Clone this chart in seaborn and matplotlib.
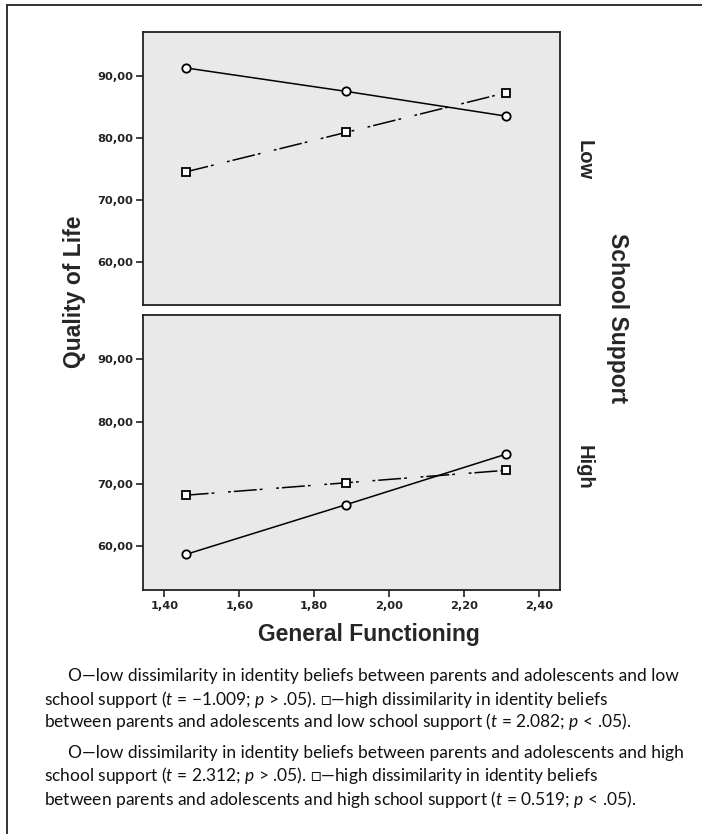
import matplotlib
matplotlib.use("Agg")
import matplotlib.pyplot as plt
import pandas as pd
import seaborn as sns

# values
gen_functioning = [1.457, 1.886, 2.313]
support_levels = ["Low", "High"]
low_dissim_low_support = [91.3, 87.5, 83.5]
high_dissim_low_support = [74.5, 80.9, 87.3]
low_dissim_high_support = [58.7, 66.7, 74.8]
high_dissim_high_support = [68.2, 70.2, 72.2]
y_ticks = [60, 70, 80, 90]
x_ticks = [1.4, 1.6, 1.8, 2.0, 2.2, 2.4]

caption_1 = [
    "O\u2014low dissimilarity in identity beliefs between parents and adolescents and low",
    "school support ($\\mathit{t}$ = \u22121.009; $\\mathit{p}$ > .05). \u25a1\u2014high dissimilarity in identity beliefs",
    "between parents and adolescents and low school support ($\\mathit{t}$ = 2.082; $\\mathit{p}$ < .05).",
]
caption_2 = [
    "O\u2014low dissimilarity in identity beliefs between parents and adolescents and high",
    "school support ($\\mathit{t}$ = 2.312; $\\mathit{p}$ > .05). \u25a1\u2014high dissimilarity in identity beliefs",
    "between parents and adolescents and high school support ($\\mathit{t}$ = 0.519; $\\mathit{p}$ < .05).",
]

rows = []
for support, low_vals, high_vals in [
    ("Low", low_dissim_low_support, high_dissim_low_support),
    ("High", low_dissim_high_support, high_dissim_high_support),
]:
    for x, y in zip(gen_functioning, low_vals):
        rows.append({"support": support, "dissim": "low", "gf": x, "qol": y})
    for x, y in zip(gen_functioning, high_vals):
        rows.append({"support": support, "dissim": "high", "gf": x, "qol": y})
df = pd.DataFrame(rows)

sns.set_theme(style="white")
plt.rcParams["font.family"] = ["DejaVu Sans"]
plt.rcParams["mathtext.fontset"] = "custom"
plt.rcParams["mathtext.rm"] = "Lato"
plt.rcParams["mathtext.it"] = "Lato:italic"

W, H = 702, 834
fig = plt.figure(figsize=(W / 100, H / 100), dpi=100)


def fx(px):
    return px / W


def fy(py):
    return 1 - py / H


panels = {"Low": (32, 305), "High": (315, 590)}
left, right = 143, 560

for support in support_levels:
    top, bottom = panels[support]
    ax = fig.add_axes([fx(left), fy(bottom), fx(right - left), (bottom - top) / H])
    ax.set_facecolor("#e9e9e9")
    sub = df[df["support"] == support]
    sns.lineplot(
        data=sub, x="gf", y="qol", style="dissim", ax=ax,
        style_order=["low", "high"],
        markers={"low": "o", "high": "s"},
        dashes={"low": "", "high": (15, 2, 1.8, 9, 1.8, 2)},
        color="black", lw=1.1, markersize=6,
        markerfacecolor="white", markeredgecolor="black", markeredgewidth=1.3,
        legend=False,
    )
    ax.set_xlim(1.343, 2.456)
    ax.set_ylim(53.0, 97.1)
    ax.set_yticks(y_ticks)
    ax.set_yticklabels([f"{v},00" for v in y_ticks], fontweight="bold")
    ax.set_xlabel("")
    ax.set_ylabel("")
    for s in ax.spines.values():
        s.set_linewidth(1.3)
        s.set_color("#222222")
    ax.tick_params(axis="y", direction="out", length=5, width=1.2, pad=2,
                   labelsize=8.2, left=True, colors="#222222")
    if support == "High":
        ax.set_xticks(x_ticks)
        ax.set_xticklabels([f"{v:.2f}".replace(".", ",") for v in x_ticks],
                           fontweight="bold")
        ax.tick_params(axis="x", direction="out", length=5, width=1.2, pad=3,
                       labelsize=8.2, bottom=True, colors="#222222")
    else:
        ax.set_xticks([])
    fig.text(fx(584), fy(160 if support == "Low" else 467), support,
             rotation=-90, ha="center", va="center", fontsize=14.5,
             fontweight="bold", family="Liberation Sans")

# axis titles
fig.text(fx(75), fy(292), "Quality of Life", rotation=90, ha="center", va="center",
         fontsize=16.5, fontweight="bold", family="Liberation Sans")
fig.text(fx(369), fy(635), "General Functioning", ha="center", va="center",
         fontsize=16.5, fontweight="bold", family="Liberation Sans")
fig.text(fx(618), fy(318), "School Support", rotation=-90, ha="center", va="center",
         fontsize=16.5, fontweight="bold", family="Liberation Sans")

# caption
cap_font = ["Lato", "DejaVu Sans"]
for lines, ys in [(caption_1, [676, 699, 722]), (caption_2, [753, 776, 799])]:
    for i, (line, y) in enumerate(zip(lines, ys)):
        x0 = 68 if i == 0 else 44
        fig.text(fx(x0), fy(y), line, ha="left", va="center", fontsize=12.5,
                 family=cap_font, color="#111111")

# outer frame (top and left only)
fig.add_artist(plt.Line2D([fx(7), 1], [fy(5), fy(5)], color="#222222", lw=1.3))
fig.add_artist(plt.Line2D([fx(7), fx(7)], [fy(5), 0], color="#222222", lw=1.3))

fig.savefig("out.png", dpi=100)
